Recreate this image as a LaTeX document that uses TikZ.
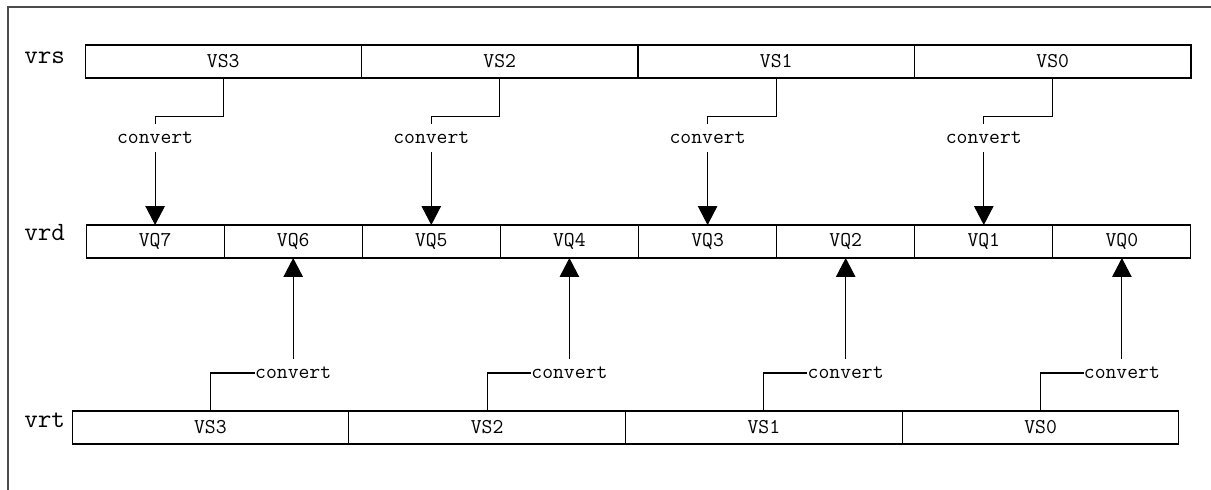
\documentclass[tikz,border=0pt]{standalone}
\usepackage{fontspec}
\usetikzlibrary{arrows.meta}

\tikzset{
	cell/.style={draw,thin,line width=.6pt,minimum height=.66cm,inner sep=0pt,outer sep=0pt,
		font=\ttfamily\fontsize{12}{14}\selectfont},
	wide/.style={cell,minimum width=5.53cm},
	half/.style={cell,minimum width=2.7625cm},
	regname/.style={anchor=base west,inner sep=0pt,font=\ttfamily\fontsize{15}{18}\selectfont},
	conv/.style={inner sep=0pt,minimum height=.54cm,font=\ttfamily\fontsize{12}{14}\selectfont},
	link/.style={line width=.6pt},
	push/.style={link,-{Triangle[width=.39cm,length=.38cm]}}
}

\begin{document}
\begin{tikzpicture}[x=.02cm,y=-.02cm]
	\useasboundingbox (0,0) rectangle (1211,490);
	\draw[line width=.6pt,black!70] (8,490) -- (8,7) -- (1211,7);

	% register names
	\node[regname] (vrs) at (24,63) {vrs};
	\node[regname] (vrd) at (24,240) {vrd};
	\node[regname] (vrt) at (24,427) {vrt};

	% source register vrs
	\node[wide] (s3) at ( 223.25,61.5) {VS3};
	\node[wide] (s2) at ( 499.75,61.5) {VS2};
	\node[wide] (s1) at ( 776.25,61.5) {VS1};
	\node[wide] (s0) at (1052.75,61.5) {VS0};

	% destination register vrd
	\node[half] (q7) at ( 155.1,241.5) {VQ7};
	\node[half] (q6) at ( 293.2,241.5) {VQ6};
	\node[half] (q5) at ( 431.3,241.5) {VQ5};
	\node[half] (q4) at ( 569.4,241.5) {VQ4};
	\node[half] (q3) at ( 707.6,241.5) {VQ3};
	\node[half] (q2) at ( 845.7,241.5) {VQ2};
	\node[half] (q1) at ( 983.8,241.5) {VQ1};
	\node[half] (q0) at (1121.9,241.5) {VQ0};

	% source register vrt
	\node[wide] (t3) at ( 210.4,427.5) {VS3};
	\node[wide] (t2) at ( 487.1,427.5) {VS2};
	\node[wide] (t1) at ( 763.9,427.5) {VS1};
	\node[wide] (t0) at (1040.6,427.5) {VS0};

	% vrs -> odd halves of vrd
	\node[conv] (cs3) at ( 155.1,138) {convert};
	\node[conv] (cs2) at ( 431.3,138) {convert};
	\node[conv] (cs1) at ( 707.6,138) {convert};
	\node[conv] (cs0) at ( 983.8,138) {convert};
	\draw[link] (s3.south) |- ([yshift=.16cm]cs3.north) -- (cs3.north);
	\draw[link] (s2.south) |- ([yshift=.16cm]cs2.north) -- (cs2.north);
	\draw[link] (s1.south) |- ([yshift=.16cm]cs1.north) -- (cs1.north);
	\draw[link] (s0.south) |- ([yshift=.16cm]cs0.north) -- (cs0.north);
	\draw[push] (cs3.south) -- (q7.north);
	\draw[push] (cs2.south) -- (q5.north);
	\draw[push] (cs1.south) -- (q3.north);
	\draw[push] (cs0.south) -- (q1.north);

	% vrt -> even halves of vrd
	\node[conv] (ct3) at ( 293.2,373) {convert};
	\node[conv] (ct2) at ( 569.4,373) {convert};
	\node[conv] (ct1) at ( 845.7,373) {convert};
	\node[conv] (ct0) at (1121.9,373) {convert};
	\draw[link] (t3.north) |- (ct3.west);
	\draw[link] (t2.north) |- (ct2.west);
	\draw[link] (t1.north) |- (ct1.west);
	\draw[link] (t0.north) |- (ct0.west);
	\draw[push] (ct3.north) -- (q6.south);
	\draw[push] (ct2.north) -- (q4.south);
	\draw[push] (ct1.north) -- (q2.south);
	\draw[push] (ct0.north) -- (q0.south);
\end{tikzpicture}
\end{document}
